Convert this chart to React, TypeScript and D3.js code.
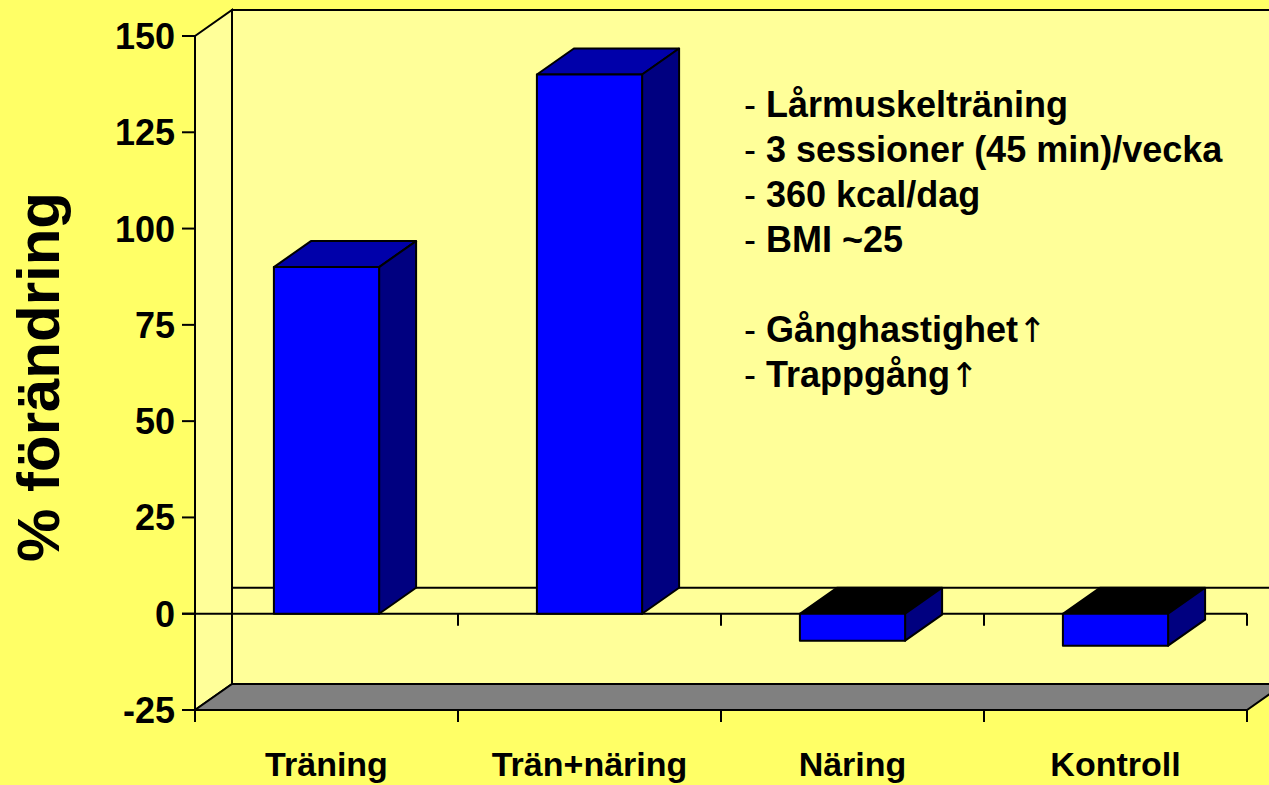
import React, { useEffect } from "react";
import * as d3 from "d3";

const categories = ["Träning", "Trän+näring", "Näring", "Kontroll"];
const values = [90, 140, -7, -8.3];
const yTicks = [-25, 0, 25, 50, 75, 100, 125, 150];
const notes = [
  { dash: "- ", text: "Lårmuskelträning", arrow: "" },
  { dash: "- ", text: "3 sessioner (45 min)/vecka", arrow: "" },
  { dash: "- ", text: "360 kcal/dag", arrow: "" },
  { dash: "- ", text: "BMI ~25", arrow: "" },
  { dash: "", text: "", arrow: "" },
  { dash: "- ", text: "Gånghastighet", arrow: "↑" },
  { dash: "- ", text: "Trappgång", arrow: "↑" },
];
const yTitle = "% förändring";

const W = 1269;
const H = 785;
const DX = 37;
const DY = -26;
const X0 = 195;
const X1 = 1247;

export default function App() {
  useEffect(() => {
    document.body.style.margin = "0";
  }, []);

  const y = d3.scaleLinear().domain([-25, 150]).range([710, 36]);
  const x = d3
    .scaleBand<string>()
    .domain(categories)
    .range([X0, X1])
    .paddingInner(0.6)
    .paddingOuter(0.3);
  const step = x.step();
  const catEdges = d3.range(categories.length + 1).map((i) => X0 + i * step);

  const pts = (arr: [number, number][]) => arr.map((p) => p.join(",")).join(" ");

  const yTop = y(150);
  const yBot = y(-25);
  const y0 = y(0);

  return (
    <div style={{ position: "absolute", left: 0, top: 0 }}>
      <svg width={W} height={H} style={{ display: "block" }}>
        <rect x={0} y={0} width={W} height={H} fill="#FFFF66" />
        {/* back wall */}
        <rect
          x={X0 + DX}
          y={yTop + DY}
          width={X1 - X0}
          height={yBot - yTop}
          fill="#FFFF99"
          stroke="#000"
          strokeWidth={2}
        />
        {/* left wall */}
        <polygon
          points={pts([
            [X0, yTop],
            [X0 + DX, yTop + DY],
            [X0 + DX, yBot + DY],
            [X0, yBot],
          ])}
          fill="#FFFF99"
          stroke="#000"
          strokeWidth={2}
        />
        {/* floor */}
        <polygon
          points={pts([
            [X0, yBot],
            [X1, yBot],
            [X1 + DX, yBot + DY],
            [X0 + DX, yBot + DY],
          ])}
          fill="#808080"
          stroke="#000"
          strokeWidth={2}
        />
        {/* back zero line */}
        <line x1={X0 + DX} x2={X1 + DX} y1={y0 + DY} y2={y0 + DY} stroke="#000" strokeWidth={2} />
        {/* front zero line */}
        <line x1={X0 - 13} x2={X1} y1={y0} y2={y0} stroke="#000" strokeWidth={2} />
        {catEdges.slice(1).map((cx, i) => (
          <line key={"zt" + i} x1={cx} x2={cx} y1={y0} y2={y0 + 12} stroke="#000" strokeWidth={2} />
        ))}
        {/* bottom front axis line */}
        <line x1={X0} x2={X1} y1={yBot} y2={yBot} stroke="#000" strokeWidth={2} />
        {catEdges.map((cx, i) => (
          <line key={"bt" + i} x1={cx} x2={cx} y1={yBot} y2={yBot + 12} stroke="#000" strokeWidth={2} />
        ))}
        {/* y axis */}
        <line x1={X0} x2={X0} y1={yTop} y2={yBot} stroke="#000" strokeWidth={2} />
        {yTicks.map((t) => (
          <g key={"yt" + t}>
            <line x1={X0 - 13} x2={X0} y1={y(t)} y2={y(t)} stroke="#000" strokeWidth={2} />
            <text
              x={175}
              y={y(t)}
              dy="0.36em"
              textAnchor="end"
              fontFamily="'Liberation Sans', Arial, sans-serif"
              fontWeight="bold"
              fontSize={36}
              fill="#000"
            >
              {t}
            </text>
          </g>
        ))}
        {/* bars */}
        {categories.map((c, i) => {
          const v = values[i];
          const bx0 = x(c)!;
          const bx1 = bx0 + x.bandwidth();
          const yv = y(v);
          const yt = Math.min(yv, y0);
          const yb = Math.max(yv, y0);
          const topColor = v >= 0 ? "#0000AA" : "#000000";
          return (
            <g key={"bar" + i} stroke="#000" strokeWidth={2} strokeLinejoin="round">
              <polygon
                points={pts([
                  [bx0, yt],
                  [bx1, yt],
                  [bx1 + DX, yt + DY],
                  [bx0 + DX, yt + DY],
                ])}
                fill={topColor}
              />
              <polygon
                points={pts([
                  [bx1, yt],
                  [bx1 + DX, yt + DY],
                  [bx1 + DX, yb + DY],
                  [bx1, yb],
                ])}
                fill="#000080"
              />
              <rect x={bx0} y={yt} width={bx1 - bx0} height={yb - yt} fill="#0000FF" />
            </g>
          );
        })}
        {/* category labels */}
        {categories.map((c) => (
          <text
            key={"cl" + c}
            x={x(c)! + x.bandwidth() / 2}
            y={776}
            textAnchor="middle"
            fontFamily="'Liberation Sans', Arial, sans-serif"
            fontWeight="bold"
            fontSize={34}
            fill="#000"
          >
            {c}
          </text>
        ))}
        {/* y title */}
        <text
          transform="translate(59,377) rotate(-90)"
          textAnchor="middle"
          fontFamily="'Liberation Sans', Arial, sans-serif"
          fontWeight="bold"
          fontSize={60}
          fill="#000"
        >
          {yTitle}
        </text>
        {/* notes */}
        {notes.map((n, i) =>
          n.text ? (
            <text
              key={"n" + i}
              x={744}
              y={117 + i * 45}
              fontFamily="'Liberation Sans', Arial, sans-serif"
              fontSize={36}
              fill="#000"
            >
              <tspan fontWeight="normal">{n.dash}</tspan>
              <tspan fontWeight="bold">{n.text}</tspan>
              {n.arrow ? (
                <tspan fontWeight="normal" fontFamily="'DejaVu Sans', sans-serif" fontSize={34} fill="#000">
                  {n.arrow}
                </tspan>
              ) : null}
            </text>
          ) : null
        )}
      </svg>
    </div>
  );
}
